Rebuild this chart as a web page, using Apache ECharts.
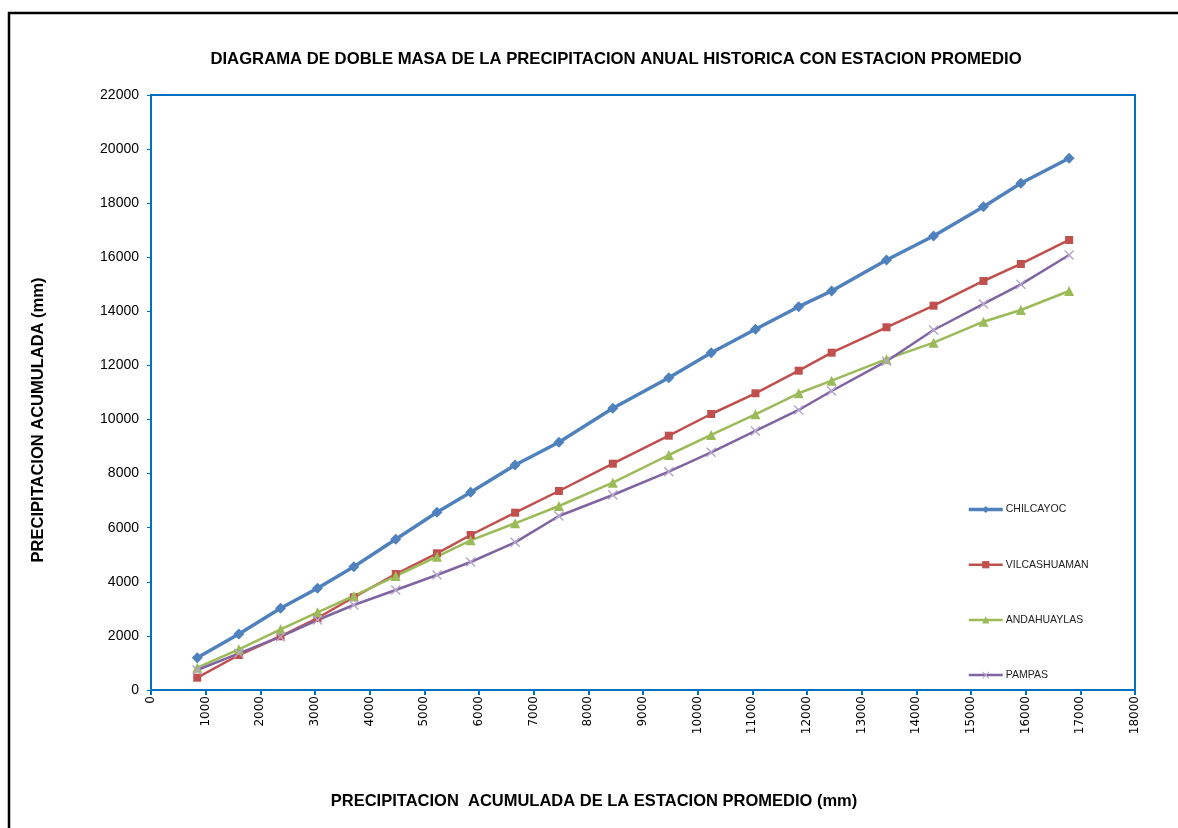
<!DOCTYPE html>
<html>
<head>
<meta charset="utf-8">
<title>Diagrama de doble masa</title>
<script src="https://cdn.jsdelivr.net/npm/echarts@6/dist/echarts.min.js"></script>
<style>
  html, body { margin: 0; padding: 0; background: #ffffff; }
  #chart { width: 1178px; height: 828px; }
</style>
</head>
<body>
<div id="chart"></div>
<script>
// Precipitación acumulada de la estación promedio (mm)
var promedio = [846, 1608, 2370, 3046, 3710, 4477, 5232, 5848, 6661, 7462, 8448, 9472, 10247, 11057, 11848, 12451, 13454, 14315, 15228, 15912, 16795];

// Precipitación acumulada por estación (mm)
var chilcayoc = [1194, 2071, 3021, 3760, 4559, 5572, 6571, 7310, 8319, 9159, 10416, 11547, 12472, 13337, 14173, 14753, 15900, 16787, 17870, 18735, 19660];
var vilcashuaman = [455, 1294, 1986, 2662, 3428, 4289, 5055, 5731, 6556, 7358, 8368, 9403, 10205, 10971, 11806, 12472, 13411, 14210, 15123, 15752, 16639];
var andahuaylas = [825, 1505, 2244, 2873, 3476, 4215, 4929, 5535, 6164, 6804, 7665, 8689, 9429, 10194, 10971, 11437, 12232, 12842, 13618, 14050, 14753];
var pampas = [740, 1357, 1971, 2588, 3143, 3698, 4252, 4733, 5461, 6434, 7210, 8072, 8789, 9577, 10353, 11056, 12157, 13311, 14273, 15000, 16084];

var estaciones = ['CHILCAYOC', 'VILCASHUAMAN', 'ANDAHUAYLAS', 'PAMPAS'];

function pares(ys) {
  return promedio.map(function (x, i) { return [x, ys[i]]; });
}

function sinSeparador(v) { return String(v); }

var azulEje = '#0070C0';
var cruz = 'path://M0,1L1,0L5,4L9,0L10,1L6,5L10,9L9,10L5,6L1,10L0,9L4,5Z';
var fuenteNegrita = 'bold 16.5px "Liberation Sans", Arial, sans-serif';

var chart = echarts.init(document.getElementById('chart'));

chart.setOption({
  backgroundColor: '#ffffff',
  animation: false,
  title: {
    text: 'DIAGRAMA DE DOBLE MASA DE LA PRECIPITACION ANUAL HISTORICA CON ESTACION PROMEDIO',
    left: 611,
    top: 46,
    textAlign: 'center',
    textStyle: { fontFamily: 'Liberation Sans, Arial, sans-serif', fontWeight: 'bold', fontSize: 16.7, color: '#000' }
  },
  legend: {
    orient: 'vertical',
    left: 967,
    top: 504,
    padding: 0,
    itemWidth: 34,
    itemHeight: 9,
    itemGap: 44.2,
    textStyle: { fontFamily: 'Liberation Sans, Arial, sans-serif', fontSize: 10.5, color: '#222', padding: [0, 0, 0, -2] },
    data: [
      { name: estaciones[0], lineStyle: { width: 3.5 } },
      { name: estaciones[1], lineStyle: { width: 2.5 } },
      { name: estaciones[2], lineStyle: { width: 2.5 } },
      { name: estaciones[3], lineStyle: { width: 2.5 } }
    ]
  },
  grid: {
    left: 151, right: 43, top: 95, bottom: 138,
    show: true, borderColor: azulEje, borderWidth: 2, backgroundColor: '#ffffff'
  },
  xAxis: {
    type: 'value',
    min: 0, max: 18000, interval: 1000,
    axisLine: { show: true, lineStyle: { color: azulEje, width: 2 } },
    axisTick: { show: true, length: 5, lineStyle: { color: azulEje, width: 2 } },
    splitLine: { show: false },
    axisLabel: {
      rotate: 90, margin: 6, color: '#000', formatter: sinSeparador,
      fontFamily: 'DejaVu Sans, Verdana, sans-serif', fontSize: 12
    }
  },
  yAxis: {
    type: 'value',
    min: 0, max: 22000, interval: 2000,
    axisLine: { show: true, lineStyle: { color: azulEje, width: 2 } },
    axisTick: { show: true, length: 4, lineStyle: { color: azulEje, width: 1 } },
    splitLine: { show: false },
    axisLabel: {
      margin: 12, color: '#000', formatter: sinSeparador,
      fontFamily: 'Liberation Sans, Arial, sans-serif', fontSize: 14
    }
  },
  graphic: [
    {
      type: 'rect', silent: true, z: -1,
      shape: { x: 9, y: 13, width: 1200, height: 850 },
      style: { fill: 'none', stroke: '#000', lineWidth: 2.5 }
    },
    {
      type: 'text', silent: true,
      x: 594, y: 801,
      style: {
        text: 'PRECIPITACION  ACUMULADA DE LA ESTACION PROMEDIO (mm)',
        x: 0, y: 0, align: 'center', verticalAlign: 'middle',
        font: fuenteNegrita, fill: '#000'
      }
    },
    {
      type: 'text', silent: true,
      x: 38, y: 420, rotation: Math.PI / 2,
      style: {
        text: 'PRECIPITACION ACUMULADA (mm)',
        x: 0, y: 0, align: 'center', verticalAlign: 'middle',
        font: fuenteNegrita, fill: '#000'
      }
    }
  ],
  series: [
    {
      name: 'CHILCAYOC', type: 'line', data: pares(chilcayoc),
      symbol: 'diamond', symbolSize: 11,
      lineStyle: { color: '#4F81BD', width: 3.5 },
      itemStyle: { color: '#4F81BD' }
    },
    {
      name: 'VILCASHUAMAN', type: 'line', data: pares(vilcashuaman),
      symbol: 'rect', symbolSize: 8,
      lineStyle: { color: '#C0504D', width: 2.5 },
      itemStyle: { color: '#C0504D' }
    },
    {
      name: 'ANDAHUAYLAS', type: 'line', data: pares(andahuaylas),
      symbol: 'triangle', symbolSize: 10,
      lineStyle: { color: '#9BBB59', width: 2.5 },
      itemStyle: { color: '#9BBB59' }
    },
    {
      name: 'PAMPAS', type: 'line', data: pares(pampas),
      symbol: cruz, symbolSize: 10,
      lineStyle: { color: '#8064A2', width: 2.5 },
      itemStyle: { color: '#B4A4CC' }
    }
  ]
});
</script>
</body>
</html>
